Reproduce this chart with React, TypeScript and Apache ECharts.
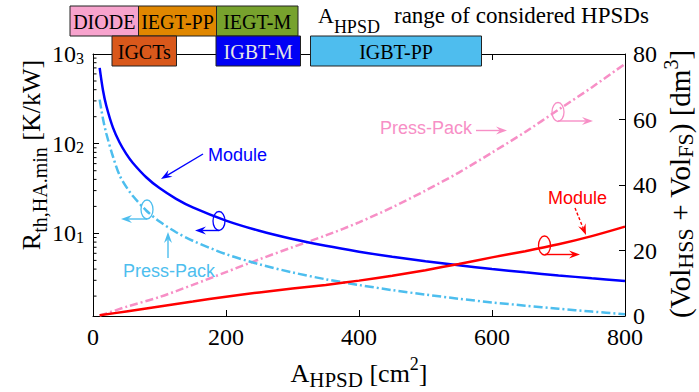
import React, { useEffect, useRef } from 'react';
import * as echarts from 'echarts';

// ---- data ----
const areaX = [10, 15, 20, 30, 40, 50, 60, 80, 100, 125, 150, 200, 250, 300, 350, 400, 450, 500, 550, 600, 650, 700, 750, 800];
const rthModule = [700, 395, 265, 151, 103, 77, 61, 42.3, 32, 24.3, 19.5, 13.9, 10.7, 8.66, 7.27, 6.26, 5.49, 4.89, 4.41, 4.01, 3.68, 3.4, 3.16, 2.95];
const rthPressPack = [310, 190, 130, 72, 44.4, 33, 26.1, 18, 13.6, 10.3, 8.28, 5.87, 4.53, 3.67, 3.08, 2.66, 2.33, 2.08, 1.87, 1.7, 1.565, 1.447, 1.345, 1.257];

const volX = [10, 50, 100, 150, 200, 250, 300, 350, 400, 450, 500, 550, 600, 650, 700, 750, 800];
const volPressPack = [0.1, 2.8, 5.8, 9.5, 13.4, 17.3, 21.0, 24.6, 28.6, 33.2, 38.3, 43.8, 49.9, 56.2, 63.0, 69.8, 77];
const volModule = [0.2, 1.4, 2.9, 4.4, 5.9, 7.2, 8.4, 9.5, 10.8, 12.3, 14.0, 15.9, 17.9, 19.8, 21.9, 24.4, 27.3];

const xTicks = [0, 200, 400, 600, 800];
const rightTicks = [0, 20, 40, 60, 80];
const logMinorTicks = [2, 3, 4, 5, 6, 7, 8, 9, 20, 30, 40, 50, 60, 70, 80, 90, 200, 300, 400, 500, 600, 700, 800, 900];

const deviceBoxesRow1 = ['DIODE', 'IEGT-PP', 'IEGT-M'];
const deviceBoxesRow2 = ['IGCTs', 'IGBT-M', 'IGBT-PP'];

const SERIF = '"Liberation Serif", "Times New Roman", serif';
const SANS = '"Liberation Sans", Arial, sans-serif';

const C_BLUE = '#0000ff';
const C_CYAN = '#4dbeee';
const C_PINK = '#f78fc6';
const C_RED = '#ff0000';

function arrow(x1: number, y1: number, x2: number, y2: number, color: string, dashed = false): any[] {
  const ang = Math.atan2(y2 - y1, x2 - x1);
  const L = 11, W = 4;
  const c = Math.cos(ang), s = Math.sin(ang);
  const bx = x2 - L * c, by = y2 - L * s;
  const nx = -s, ny = c;
  const notch = [x2 - L * 0.65 * c, y2 - L * 0.65 * s];
  return [
    { type: 'line', silent: true, z: 50, shape: { x1, y1, x2: notch[0], y2: notch[1] }, style: { stroke: color, lineWidth: 1.4, lineDash: dashed ? [3, 2] : null } },
    { type: 'polygon', silent: true, z: 50, shape: { points: [[x2, y2], [bx + nx * W, by + ny * W], notch, [bx - nx * W, by - ny * W]] }, style: { fill: color } },
  ];
}

function ellipse(cx: number, cy: number, color: string): any {
  return { type: 'ellipse', silent: true, z: 50, shape: { cx, cy, rx: 6, ry: 9.5 }, style: { fill: 'none', stroke: color, lineWidth: 1.3 } };
}

function label(text: string, x: number, y: number, color: string, align = 'left'): any {
  return { type: 'text', silent: true, z: 50, x, y, style: { text, fill: color, font: `18px ${SANS}`, align, verticalAlign: 'middle' } };
}

function box(x: number, y: number, w: number, h: number, fill: string, text: string, textColor = '#000'): any {
  return {
    type: 'group', silent: true, z: 100, children: [
      { type: 'rect', z: 100, shape: { x, y, width: w, height: h }, style: { fill, stroke: '#222', lineWidth: 1 } },
      { type: 'text', z: 101, x: x + w / 2, y: y + h / 2 + 1, style: { text, fill: textColor, font: `20px ${SERIF}`, align: 'center', verticalAlign: 'middle' } },
    ]
  };
}

function titleRich(main: number, sub: number, sup: number, subDrop: number, mainPad: number) {
  return {
    m: { fontSize: main, lineHeight: main, fontFamily: SERIF, verticalAlign: 'top', padding: [mainPad, 0, 0, 0], color: '#000' },
    sb: { fontSize: sub, lineHeight: sub, fontFamily: SERIF, verticalAlign: 'top', padding: [subDrop, 0, 0, 0], color: '#000' },
    sp: { fontSize: sup, lineHeight: sup, fontFamily: SERIF, verticalAlign: 'top', padding: [0, 0, 0, 0], color: '#000' },
  };
}

export default function App() {
  const ref = useRef<HTMLDivElement>(null);
  useEffect(() => {
    if (!ref.current) return;
    const chart = echarts.init(ref.current, null, { renderer: 'svg' });
    const axisLabelStyle = { color: '#000', fontFamily: SERIF, fontSize: 24 };
    const tickStyle = { show: true, inside: true, length: 6, lineStyle: { color: '#000', width: 1 } };

    const graphics: any[] = [
      // device boxes
      box(70, 6, 68.5, 30, '#f7a3cd', deviceBoxesRow1[0]),
      box(138.5, 6, 78, 30, '#e08700', deviceBoxesRow1[1]),
      box(216.5, 6, 81.5, 30, '#77a22d', deviceBoxesRow1[2]),
      box(112, 36, 64.5, 30, '#d9581b', deviceBoxesRow2[0]),
      box(216, 36, 84.5, 30, '#0000f5', deviceBoxesRow2[1], '#e6e6e6'),
      box(310.5, 36, 171, 30, '#4ebdee', deviceBoxesRow2[2]),
      {
        type: 'text', silent: true, z: 100, x: 318, y: 4,
        style: {
          text: '{a|A}{s|HPSD}', rich: {
            a: { fontSize: 22, lineHeight: 22, fontFamily: SERIF, verticalAlign: 'top', color: '#000' },
            s: { fontSize: 18, lineHeight: 18, fontFamily: SERIF, verticalAlign: 'top', padding: [14, 0, 0, 0], color: '#000' },
          }, align: 'left', verticalAlign: 'top'
        }
      },
      { type: 'text', silent: true, z: 100, x: 394, y: 15, style: { text: 'range of considered HPSDs', fill: '#000', font: `23px ${SERIF}`, align: 'left', verticalAlign: 'middle' } },

      // axis titles
      {
        type: 'text', silent: true, x: 359, y: 368,
        style: { text: '{m|A}{sb|HPSD}{m| [cm}{sp|2}{m|]}', rich: titleRich(26, 21, 18, 14, 5), align: 'center', verticalAlign: 'middle' }
      },
      {
        type: 'text', silent: true, x: 26, y: 155, rotation: Math.PI / 2,
        style: { text: '{m|R}{sb|th,HA.min}{m| [K/kW]}', rich: titleRich(26, 20, 18, 17, 5), align: 'center', verticalAlign: 'middle' }
      },
      {
        type: 'text', silent: true, x: 675, y: 184, rotation: Math.PI / 2,
        style: { text: '{m|(Vol}{sb|HSS}{m| + Vol}{sb|FS}{m|) [dm}{sp|3}{m|]}', rich: titleRich(29, 22, 20, 14, 5), align: 'center', verticalAlign: 'middle' }
      },

      // annotations - blue module
      label('Module', 208, 155, C_BLUE),
      ...arrow(203, 154, 161, 179, C_BLUE),
      ellipse(219, 221, C_BLUE),
      ...arrow(219, 230.5, 195, 230.5, C_BLUE),
      // cyan press-pack
      ellipse(147, 209.5, C_CYAN),
      ...arrow(147, 219, 121, 219, C_CYAN),
      label('Press-Pack', 123, 271, C_CYAN),
      ...arrow(168, 258, 168, 232, C_CYAN),
      // pink press-pack
      label('Press-Pack', 472, 128, C_PINK, 'right'),
      ...arrow(476, 130.5, 507, 130.5, C_PINK),
      ellipse(558, 112, C_PINK),
      ...arrow(558, 121, 593, 121, C_PINK),
      // red module
      label('Module', 548, 198, C_RED),
      ...arrow(575, 208, 586, 235, C_RED, true),
      ellipse(544.5, 245.5, C_RED),
      ...arrow(545, 254.5, 580, 254.5, C_RED),
    ];

    chart.setOption({
      animation: false,
      backgroundColor: '#fff',
      grid: { left: 93, right: 74, top: 54, bottom: 76, show: false },
      xAxis: [
        {
          type: 'value', position: 'bottom', min: xTicks[0], max: xTicks[xTicks.length - 1], interval: 200,
          axisLine: { show: true, onZero: false, lineStyle: { color: '#000', width: 1 } },
          axisTick: tickStyle, splitLine: { show: false },
          axisLabel: { ...axisLabelStyle, margin: 9 },
        },
        {
          type: 'value', position: 'top', min: xTicks[0], max: xTicks[xTicks.length - 1], interval: 200,
          axisLine: { show: true, onZero: false, lineStyle: { color: '#000', width: 1 } },
          axisTick: tickStyle, splitLine: { show: false }, axisLabel: { show: false },
        },
      ],
      yAxis: [
        {
          type: 'log', logBase: 10, min: 1.2, max: 1000, position: 'left',
          axisLine: { show: true, onZero: false, lineStyle: { color: '#000', width: 1 } },
          axisTick: tickStyle, splitLine: { show: false },
          axisLabel: {
            color: '#000', margin: 9, showMinLabel: false,
            formatter: (v: number) => {
              const l = Math.log10(v);
              const e = Math.round(l);
              if (Math.abs(l - e) > 1e-6) return '';
              return '{b|10}{p|' + e + '}';
            },
            rich: {
              b: { fontSize: 24, lineHeight: 24, fontFamily: SERIF, verticalAlign: 'bottom', padding: [12, 0, 0, 0], color: '#000' },
              p: { fontSize: 16, lineHeight: 16, fontFamily: SERIF, verticalAlign: 'top', padding: [8, 0, 0, 0], color: '#000' },
            },
          },
        },
        {
          type: 'value', min: rightTicks[0], max: rightTicks[rightTicks.length - 1], interval: 20, position: 'right',
          axisLine: { show: true, onZero: false, lineStyle: { color: '#000', width: 1 } },
          axisTick: tickStyle, splitLine: { show: false },
          axisLabel: { ...axisLabelStyle, margin: 8 },
        },
      ],
      series: [
        {
          type: 'line', name: 'Rth Module', xAxisIndex: 0, yAxisIndex: 0, showSymbol: false, smooth: 0.3,
          data: areaX.map((x, i) => [x, rthModule[i]]),
          lineStyle: { color: C_BLUE, width: 2.5 }, z: 5,
        },
        {
          type: 'line', name: 'Rth Press-Pack', xAxisIndex: 0, yAxisIndex: 0, showSymbol: false, smooth: 0.3,
          data: areaX.map((x, i) => [x, rthPressPack[i]]),
          lineStyle: { color: C_CYAN, width: 2.5, type: [9, 3, 2, 3] }, z: 4,
        },
        {
          type: 'line', name: 'Vol Press-Pack', xAxisIndex: 0, yAxisIndex: 1, showSymbol: false, smooth: 0.3,
          data: volX.map((x, i) => [x, volPressPack[i]]),
          lineStyle: { color: C_PINK, width: 2.5, type: [8, 3, 2, 3] }, z: 3,
        },
        {
          type: 'line', name: 'Vol Module', xAxisIndex: 0, yAxisIndex: 1, showSymbol: false, smooth: 0.3,
          data: volX.map((x, i) => [x, volModule[i]]),
          lineStyle: { color: C_RED, width: 2.5 }, z: 5,
        },
        {
          type: 'custom', name: 'minor ticks', xAxisIndex: 0, yAxisIndex: 0, silent: true, clip: false,
          data: logMinorTicks.map((v) => [0, v]),
          renderItem: (params: any, api: any) => {
            const p = api.coord([0, api.value(1)]);
            return { type: 'line', shape: { x1: p[0], y1: p[1], x2: p[0] + 3.5, y2: p[1] }, style: { stroke: '#000', lineWidth: 1 } };
          },
        },
      ],
      graphic: { elements: graphics },
    });
    return () => chart.dispose();
  }, []);
  return <div ref={ref} style={{ position: 'fixed', left: 0, top: 0, width: 699, height: 392 }} />;
}
